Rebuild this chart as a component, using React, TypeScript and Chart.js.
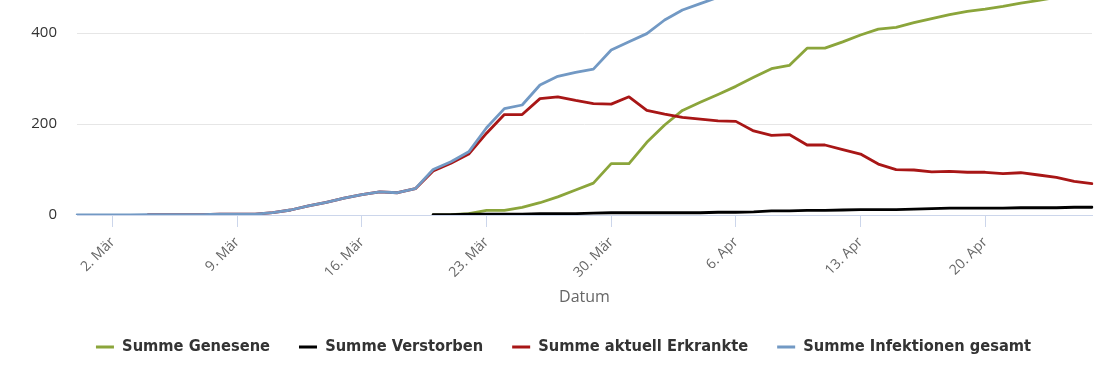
import React, { useEffect, useRef } from "react";
import { Chart, registerables } from "chart.js";

Chart.register(...registerables);

const categories = [
  "29. Feb",
  "1. Mär", "2. Mär", "3. Mär", "4. Mär", "5. Mär", "6. Mär", "7. Mär", "8. Mär", "9. Mär", "10. Mär",
  "11. Mär", "12. Mär", "13. Mär", "14. Mär", "15. Mär", "16. Mär", "17. Mär", "18. Mär", "19. Mär", "20. Mär",
  "21. Mär", "22. Mär", "23. Mär", "24. Mär", "25. Mär", "26. Mär", "27. Mär", "28. Mär", "29. Mär", "30. Mär", "31. Mär",
  "1. Apr", "2. Apr", "3. Apr", "4. Apr", "5. Apr", "6. Apr", "7. Apr", "8. Apr", "9. Apr", "10. Apr",
  "11. Apr", "12. Apr", "13. Apr", "14. Apr", "15. Apr", "16. Apr", "17. Apr", "18. Apr", "19. Apr", "20. Apr",
  "21. Apr", "22. Apr", "23. Apr", "24. Apr", "25. Apr", "26. Apr",
];

const xTickLabels = ["2. Mär", "9. Mär", "16. Mär", "23. Mär", "30. Mär", "6. Apr", "13. Apr", "20. Apr"];
const yTicks = [0, 200, 400];

const seriesNames = ["Summe Genesene", "Summe Verstorben", "Summe aktuell Erkrankte", "Summe Infektionen gesamt"];
const seriesColors = ["#8ba53b", "#000000", "#a81616", "#7299c4"];

const n = null;

const genesene = [
  n, n, n, n, n, n, n, n, n, n, n, n, n, n, n, n, n, n, n, n,
  0, 1, 3, 10, 10, 17, 27, 40, 55, 70, 113, 113, 160, 198, 230, 248, 265, 283, 303, 322,
  329, 367, 367, 381, 396, 409, 413, 423, 432, 441, 448, 453, 459, 466, 472, 479, 485, 491,
];

const verstorben = [
  n, n, n, n, n, n, n, n, n, n, n, n, n, n, n, n, n, n, n, n,
  1, 1, 2, 2, 2, 2, 3, 3, 3, 4, 5, 5, 5, 5, 5, 5, 6, 6, 7, 9,
  9, 10, 10, 11, 12, 12, 12, 13, 14, 15, 15, 15, 15, 16, 16, 16, 17, 17,
];

const erkrankte = [
  n, n, n, n, 1, 1, 1, 1, 2, 2, 2, 5, 11, 20, 28, 37, 45, 51, 49, 58,
  97, 114, 134, 180, 221, 221, 256, 260, 252, 245, 244, 260, 230, 222, 215, 211, 207, 206, 185, 175,
  177, 154, 154, 144, 134, 112, 100, 99, 95, 96, 94, 94, 91, 93, 88, 83, 74, 69,
];

const infektionen = [
  0, 0, 0, 0, 1, 1, 1, 1, 2, 2, 2, 5, 11, 20, 28, 37, 45, 51, 49, 58,
  100, 117, 139, 192, 234, 242, 286, 305, 314, 321, 363, 381, 399, 429, 451, 465, 479, 495, 497, 505,
  516, 532, 534, 536, 542, 546, 549, 555, 563, 569, 574, 580, 584, 594, 600, 606, 612, 616,
];

function pickLegendFont() {
  const c = document.createElement("canvas").getContext("2d");
  const fams = ["Liberation Sans Narrow", "DejaVu Sans Condensed", "Open Sans"];
  if (!c) return { family: "Open Sans", size: 16 };
  for (const f of fams) {
    c.font = `bold 20px "${f}", monospace`;
    const w1 = c.measureText("Summe Genesene").width;
    c.font = `bold 20px monospace`;
    const w2 = c.measureText("Summe Genesene").width;
    if (Math.abs(w1 - w2) > 0.5) {
      return { family: f, size: Math.round((20 * 148) / w1 * 10) / 10 };
    }
  }
  return { family: "Open Sans", size: 16 };
}

export default function App() {
  const ref = useRef<HTMLCanvasElement>(null);

  useEffect(() => {
    const canvas = ref.current;
    if (!canvas) return;
    const lf = pickLegendFont();
    const legendPad = 29;
    const padLeft = 28;
    const padRight = 18;
    const padBottom = Math.max(0, 13 - lf.size / 2);
    const legendHeight = lf.size + legendPad + 10;
    const xAxisHeight = 370 - padBottom - legendHeight - 215;
    const legendShift = 563.5 - (padLeft + (1110 - padRight)) / 2;

    const zeroPad = (s: any) => {
      s.paddingTop = 0;
      s.paddingBottom = 0;
      s.paddingLeft = 0;
      s.paddingRight = 0;
    };

    const mk = (i: number, data: (number | null)[]) => ({
      label: seriesNames[i],
      data,
      borderColor: seriesColors[i],
      backgroundColor: seriesColors[i],
      borderWidth: 2.8,
      pointRadius: 0,
      pointHoverRadius: 0,
      tension: 0,
      fill: false,
      spanGaps: false,
      borderJoinStyle: "round" as const,
      borderCapStyle: "round" as const,
    });

    const shiftLegend = {
      id: "shiftLegend",
      afterLayout(chart: any) {
        if (chart.legend) {
          chart.legend.left += legendShift;
          chart.legend.right += legendShift;
        }
      },
    };

    const chart = new Chart(canvas, {
      type: "line",
      data: {
        labels: categories,
        datasets: [mk(3, infektionen), mk(2, erkrankte), mk(1, verstorben), mk(0, genesene)],
      },
      plugins: [shiftLegend],
      options: {
        responsive: false,
        animation: false,
        layout: { padding: { left: padLeft, right: padRight, top: 0, bottom: padBottom } },
        scales: {
          x: {
            type: "category",
            offset: false,
            grid: {
              display: true,
              drawOnChartArea: false,
              drawTicks: true,
              tickLength: 12,
              tickColor: "#ccd6eb",
              color: "#ccd6eb",
            },
            border: { display: true, color: "#ccd6eb", width: 1 },
            ticks: {
              autoSkip: false,
              minRotation: 45,
              maxRotation: 45,
              padding: 7,
              color: "#666666",
              font: { family: "'Open Sans'", size: 14 },
            },
            title: {
              display: true,
              text: "Datum",
              color: "#666666",
              font: { family: "'Open Sans'", size: 16 },
              padding: { top: 0, bottom: 3 },
            },
            afterBuildTicks: (s: any) => {
              s.ticks = s.ticks.filter((t: any) => xTickLabels.includes(categories[t.value]));
            },
            afterFit: (s: any) => {
              s.height = xAxisHeight;
              zeroPad(s);
            },
          },
          y: {
            min: 0,
            max: 473,
            ticks: {
              stepSize: 200,
              includeBounds: false,
              padding: 20,
              color: "#333333",
              font: { family: "'Open Sans'", size: 15 },
            },
            grid: { color: "#e6e6e6", drawTicks: false, lineWidth: 1 },
            border: { display: false },
            afterBuildTicks: (s: any) => {
              s.ticks = yTicks.map((v) => ({ value: v }));
            },
            afterFit: (s: any) => {
              s.width = 77 - padLeft;
              zeroPad(s);
            },
          },
        },
        plugins: {
          tooltip: { enabled: false },
          legend: {
            display: true,
            position: "bottom",
            reverse: true,
            labels: {
              boxWidth: 18,
              boxHeight: 3,
              padding: legendPad,
              color: "#333333",
              font: { family: `'${lf.family}'`, size: lf.size, weight: "bold" },
              generateLabels: (c: any) =>
                Chart.defaults.plugins.legend.labels
                  .generateLabels(c)
                  .map((l: any) => ({ ...l, lineWidth: 0, fillStyle: l.strokeStyle })),
            },
          },
        },
      },
    });
    return () => chart.destroy();
  }, []);

  return (
    <div style={{ position: "absolute", left: 0, top: 0, width: 1110, height: 370, background: "#ffffff" }}>
      <canvas ref={ref} width={1110} height={370} style={{ display: "block", width: 1110, height: 370 }} />
    </div>
  );
}
